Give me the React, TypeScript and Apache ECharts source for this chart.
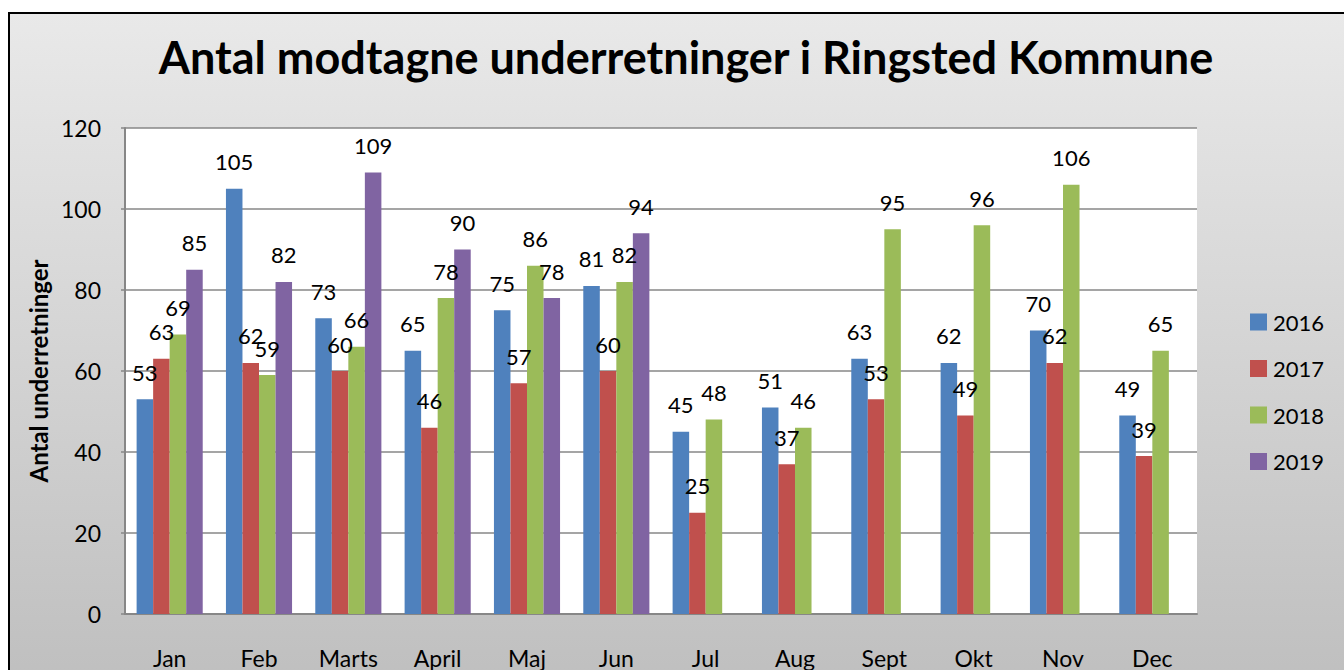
import React, { useEffect, useRef } from "react";
import * as echarts from "echarts";

const months = ["Jan", "Feb", "Marts", "April", "Maj", "Jun", "Jul", "Aug", "Sept", "Okt", "Nov", "Dec"];
const seriesNames = ["2016", "2017", "2018", "2019"];
const v2016 = [53, 105, 73, 65, 75, 81, 45, 51, 63, 62, 70, 49];
const v2017 = [63, 62, 60, 46, 57, 60, 25, 37, 53, 49, 62, 39];
const v2018 = [69, 59, 66, 78, 86, 82, 48, 46, 95, 96, 106, 65];
const v2019 = [85, 82, 109, 90, 78, 94, null, null, null, null, null, null];
const colors = ["#4F81BD", "#C0504D", "#9BBB59", "#8064A2"];
const titleText = "Antal modtagne underretninger i Ringsted Kommune";
const yAxisName = "Antal underretninger";

const FONT = "Lato, 'Open Sans', sans-serif";

export default function App() {
  const ref = useRef<HTMLDivElement>(null);
  useEffect(() => {
    if (!ref.current) return;
    const chart = echarts.init(ref.current, null, { renderer: "svg" });
    const allValues = [v2016, v2017, v2018, v2019];
    chart.setOption({
      animation: false,
      textStyle: { fontFamily: FONT },
      title: {
        text: titleText,
        left: 681,
        top: 29,
        textAlign: "center",
        textStyle: { fontFamily: FONT, fontSize: 45, fontWeight: "bold", color: "#000" },
      },
      graphic: [
        {
          type: "rect",
          z: -100,
          shape: { x: 9, y: 13, width: 1345, height: 670 },
          style: {
            fill: new echarts.graphic.LinearGradient(0, 0, 0, 1, [
              { offset: 0, color: "#e9e9e9" },
              { offset: 1, color: "#bfbfbf" },
            ]),
            stroke: "#000",
            lineWidth: 2,
          },
        },
      ],
      legend: {
        orient: "vertical",
        left: 1245,
        top: 306,
        itemWidth: 17,
        itemHeight: 17,
        itemGap: 24.5,
        icon: "rect",
        textStyle: { fontFamily: FONT, fontSize: 22, color: "#000", padding: [0, 0, 0, 1] },
        data: seriesNames,
      },
      grid: {
        left: 125,
        right: 147,
        top: 128,
        bottom: 56,
        show: true,
        backgroundColor: "#fff",
        borderWidth: 0,
      },
      xAxis: {
        type: "category",
        data: months,
        axisLine: { show: true, lineStyle: { color: "#878787", width: 2 } },
        axisTick: { show: false },
        axisLabel: { fontFamily: FONT, fontSize: 23, color: "#000", margin: 32 },
      },
      yAxis: {
        type: "value",
        min: 0,
        max: 120,
        interval: 20,
        name: yAxisName,
        nameLocation: "middle",
        nameGap: 74,
        nameTextStyle: { fontFamily: FONT, fontSize: 24, fontWeight: "bold", color: "#000" },
        axisLine: { show: true, lineStyle: { color: "#878787", width: 2 } },
        axisTick: { show: true, length: 4, lineStyle: { color: "#878787", width: 1.5 } },
        splitLine: { lineStyle: { color: "#878787", width: 1.5 } },
        axisLabel: { fontFamily: FONT, fontSize: 23, color: "#000", margin: 24 },
      },
      series: seriesNames.map((name, i) => ({
        name,
        type: "bar",
        data: allValues[i],
        barGap: "0%",
        barCategoryGap: "26%",
        itemStyle: { color: colors[i] },
        label: {
          show: true,
          position: "top",
          distance: 16,
          fontFamily: FONT,
          fontSize: 22,
          color: "#000",
        },
      })),
    });
    return () => chart.dispose();
  }, []);
  return (
    <div
      ref={ref}
      style={{ position: "fixed", left: 0, top: 0, width: 1344, height: 670, background: "#fff" }}
    />
  );
}
